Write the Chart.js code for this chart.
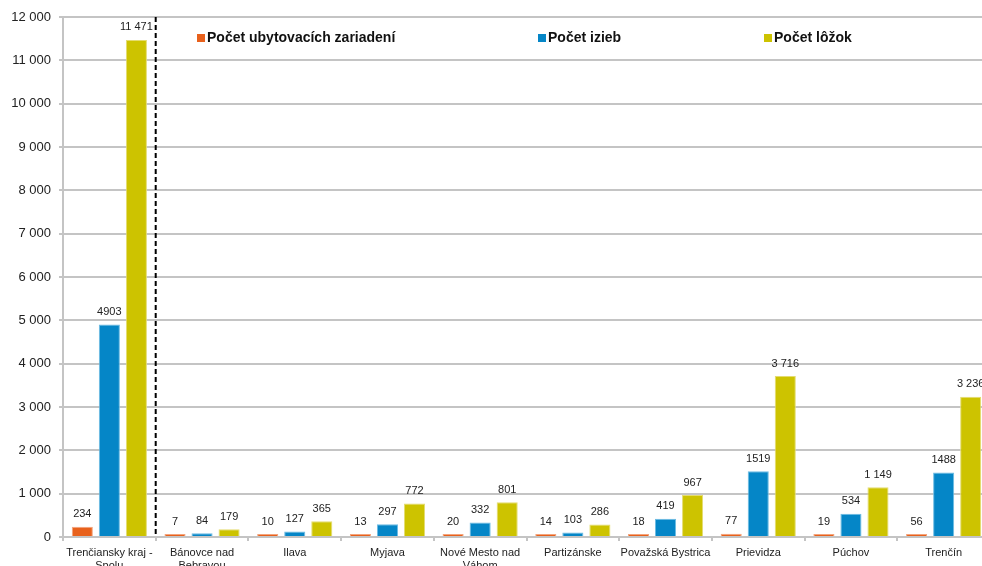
<!DOCTYPE html>
<html>
<head>
<meta charset="utf-8">
<script src="https://cdn.jsdelivr.net/npm/chart.js@4.4.1/dist/chart.umd.min.js"></script>
<style>
  html, body { margin: 0; padding: 0; background: #fff; overflow: hidden; }
  .chart-wrap { position: relative; width: 990px; height: 566px; }
</style>
</head>
<body>
<div class="chart-wrap"><canvas id="ubytovanieChart"></canvas></div>
<script>
var categories = [
  ["Trenčiansky kraj -", "Spolu"],
  ["Bánovce nad", "Bebravou"],
  "Ilava",
  "Myjava",
  ["Nové Mesto nad", "Váhom"],
  "Partizánske",
  "Považská Bystrica",
  "Prievidza",
  "Púchov",
  "Trenčín"
];
var seriesNames = ["Počet ubytovacích zariadení", "Počet izieb", "Počet lôžok"];
var zariadenia = [234, 7, 10, 13, 20, 14, 18, 77, 19, 56];
var izby = [4903, 84, 127, 297, 332, 103, 419, 1519, 534, 1488];
var lozka = [11471, 179, 365, 772, 801, 286, 967, 3716, 1149, 3236];
var yMax = 12000;
var yStep = 1000;
// label formats: only the beds series uses a thousands separator
var spacedLabels = [false, false, true];

var colors = ["#e8611c", "#0586c7", "#cdc300"];
var edgeColors = ["#f3a47c", "#6cbbe3", "#e4dc70"];

function spaced(v) {
  return String(v).replace(/\B(?=(\d{3})+(?!\d))/g, " ");
}

// numbers above bars
var valueLabels = {
  id: 'valueLabels',
  afterDatasetsDraw: function(chart) {
    var ctx = chart.ctx;
    ctx.save();
    ctx.font = "11px 'Liberation Sans', Arial, sans-serif";
    ctx.fillStyle = "#222";
    ctx.textAlign = "center";
    ctx.textBaseline = "bottom";
    chart.data.datasets.forEach(function(ds, i) {
      var meta = chart.getDatasetMeta(i);
      meta.data.forEach(function(bar, j) {
        var v = ds.data[j];
        var txt = spacedLabels[i] ? spaced(v) : String(v);
        ctx.fillText(txt, bar.x, bar.y - 7);
      });
    });
    ctx.restore();
  }
};

// dashed separator after the region total + legend inside plot
var extras = {
  id: 'extras',
  afterDraw: function(chart) {
    var ctx = chart.ctx;
    var xs = chart.scales.x;
    var area = chart.chartArea;
    var sepX = (xs.getPixelForValue(0) + xs.getPixelForValue(1)) / 2;
    ctx.save();
    ctx.strokeStyle = "#000";
    ctx.lineWidth = 2;
    ctx.setLineDash([5, 3]);
    ctx.beginPath();
    ctx.moveTo(sepX, area.top);
    ctx.lineTo(sepX, area.bottom);
    ctx.stroke();
    ctx.setLineDash([]);

    var legendX = [197, 538, 764];
    ctx.font = "bold 14px 'Liberation Sans', Arial, sans-serif";
    ctx.textAlign = "left";
    ctx.textBaseline = "middle";
    for (var i = 0; i < seriesNames.length; i++) {
      ctx.fillStyle = colors[i];
      ctx.fillRect(legendX[i], 34, 8, 8);
      ctx.fillStyle = "#111";
      ctx.fillText(seriesNames[i], legendX[i] + 10, 38);
    }
    ctx.restore();
  }
};

var ctx = document.getElementById('ubytovanieChart');
var values = [zariadenia, izby, lozka];
var datasets = [];
for (var i = 0; i < values.length; i++) {
  datasets.push({
    label: seriesNames[i],
    data: values[i],
    backgroundColor: colors[i],
    borderColor: edgeColors[i],
    borderWidth: { top: 1, left: 1, right: 1, bottom: 0 },
    borderSkipped: false,
    barPercentage: 0.78,
    categoryPercentage: 0.875,
    minBarLength: 3
  });
}

new Chart(ctx, {
  type: 'bar',
  data: {
    labels: categories,
    datasets: datasets
  },
  options: {
    responsive: true,
    maintainAspectRatio: false,
    animation: false,
    layout: {
      padding: { top: 17, left: 0, right: 0, bottom: 0 }
    },
    scales: {
      y: {
        min: 0,
        max: yMax,
        afterFit: function(scale) { scale.width = 63; },
        border: { display: true, color: "#c4c4c4", width: 2 },
        grid: {
          color: "#c4c4c4",
          lineWidth: 2,
          tickLength: 4
        },
        ticks: {
          stepSize: yStep,
          padding: 8,
          color: "#222",
          font: { size: 13 },
          callback: function(v) { return spaced(v); }
        }
      },
      x: {
        afterFit: function(scale) { scale.height = 29; },
        border: { display: true, color: "#c4c4c4", width: 2 },
        grid: {
          offset: true,
          drawOnChartArea: false,
          drawTicks: true,
          tickLength: 4,
          color: "#c4c4c4",
          lineWidth: 2
        },
        ticks: {
          autoSkip: false,
          maxRotation: 0,
          minRotation: 0,
          padding: 5,
          color: "#222",
          font: { size: 11 }
        }
      }
    },
    plugins: {
      legend: { display: false },
      tooltip: { enabled: false }
    }
  },
  plugins: [valueLabels, extras]
});
</script>
</body>
</html>
